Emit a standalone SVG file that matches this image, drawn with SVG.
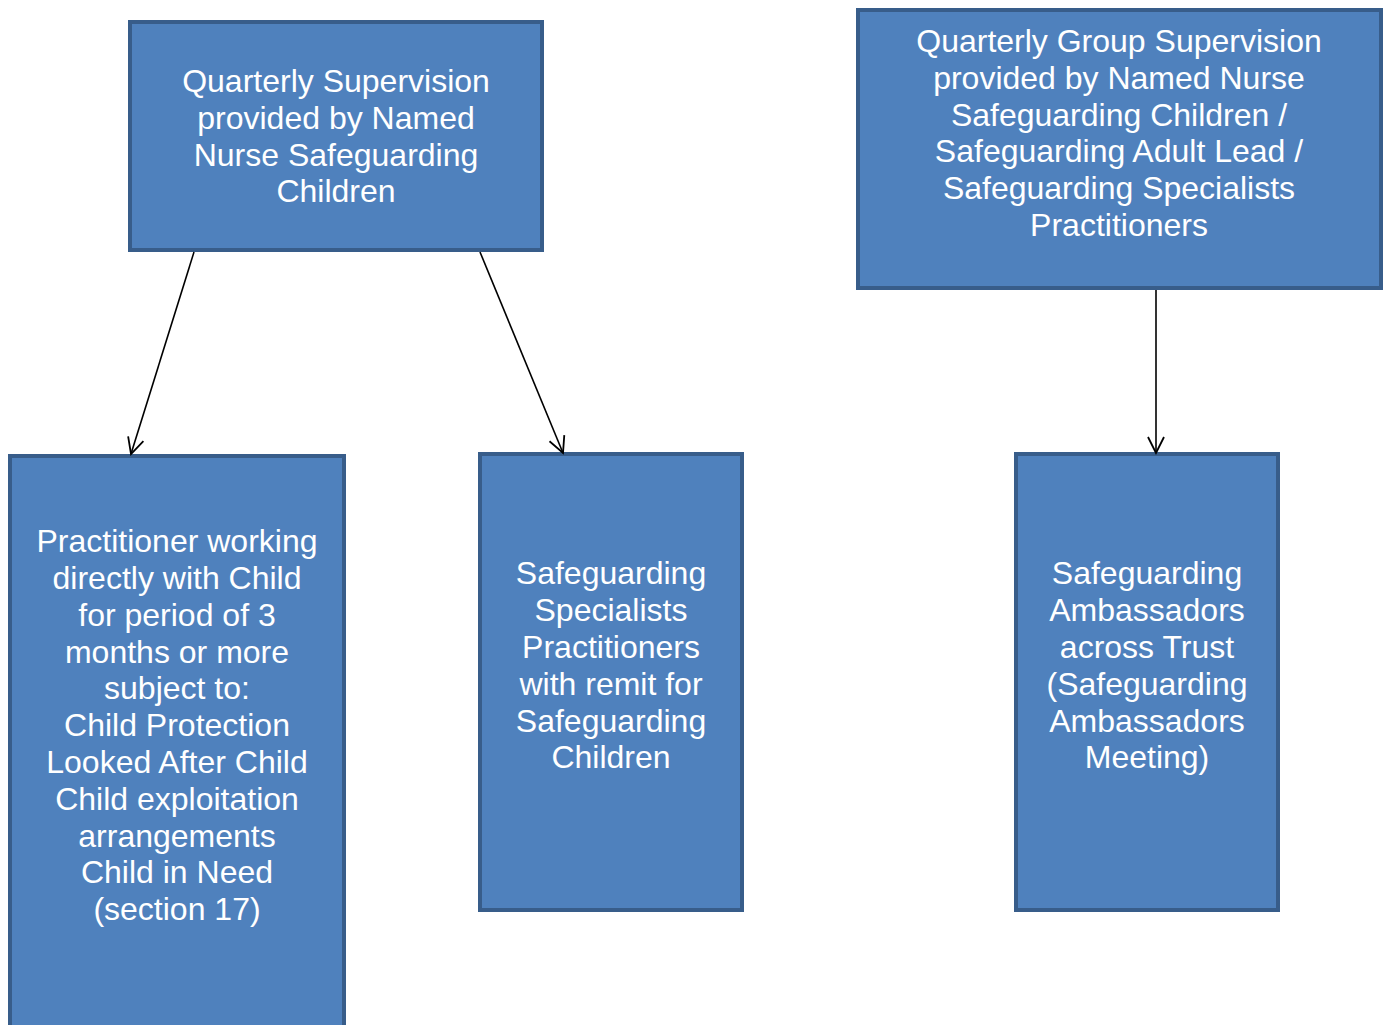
<svg xmlns="http://www.w3.org/2000/svg" width="1386" height="1025" viewBox="0 0 1386 1025">
<style>
.box{fill:#4F81BD;stroke:#385D8A;stroke-width:4}
.t{font-family:"Liberation Sans",Arial,sans-serif;font-size:32px;fill:#fff;text-anchor:middle}
.c{stroke:#000;stroke-width:1.6;fill:none}
</style>
<defs>
<marker id="ah" viewBox="0 0 20 20" refX="18" refY="10" markerWidth="20" markerHeight="20" markerUnits="userSpaceOnUse" orient="auto">
<path d="M2,2 L18,10 L2,18" fill="none" stroke="#000" stroke-width="1.8"/>
</marker>
</defs>
<rect width="1386" height="1025" fill="#fff"/>
<g id="n1">
<rect class="box" x="130" y="22" width="412" height="228"/>
<text class="t" x="336" y="92">Quarterly Supervision</text>
<text class="t" x="336" y="129">provided by Named</text>
<text class="t" x="336" y="166">Nurse Safeguarding</text>
<text class="t" x="336" y="202">Children</text>
</g>
<g id="n2">
<rect class="box" x="858" y="10" width="523" height="278"/>
<text class="t" x="1119" y="52">Quarterly Group Supervision</text>
<text class="t" x="1119" y="89">provided by Named Nurse</text>
<text class="t" x="1119" y="126">Safeguarding Children /</text>
<text class="t" x="1119" y="162">Safeguarding Adult Lead /</text>
<text class="t" x="1119" y="199">Safeguarding Specialists</text>
<text class="t" x="1119" y="236">Practitioners</text>
</g>
<g id="n3">
<rect class="box" x="10" y="456" width="334" height="600"/>
<text class="t" x="177" y="552">Practitioner working</text>
<text class="t" x="177" y="589">directly with Child</text>
<text class="t" x="177" y="626">for period of 3</text>
<text class="t" x="177" y="663">months or more</text>
<text class="t" x="177" y="699">subject to:</text>
<text class="t" x="177" y="736">Child Protection</text>
<text class="t" x="177" y="773">Looked After Child</text>
<text class="t" x="177" y="810">Child exploitation</text>
<text class="t" x="177" y="847">arrangements</text>
<text class="t" x="177" y="883">Child in Need</text>
<text class="t" x="177" y="920">(section 17)</text>
</g>
<g id="n4">
<rect class="box" x="480" y="454" width="262" height="456"/>
<text class="t" x="611" y="584">Safeguarding</text>
<text class="t" x="611" y="621">Specialists</text>
<text class="t" x="611" y="658">Practitioners</text>
<text class="t" x="611" y="695">with remit for</text>
<text class="t" x="611" y="732">Safeguarding</text>
<text class="t" x="611" y="768">Children</text>
</g>
<g id="n5">
<rect class="box" x="1016" y="454" width="262" height="456"/>
<text class="t" x="1147" y="584">Safeguarding</text>
<text class="t" x="1147" y="621">Ambassadors</text>
<text class="t" x="1147" y="658">across Trust</text>
<text class="t" x="1147" y="695">(Safeguarding</text>
<text class="t" x="1147" y="732">Ambassadors</text>
<text class="t" x="1147" y="768">Meeting)</text>
</g>
<g id="connectors">
<line class="c" x1="194" y1="252" x2="131" y2="454" marker-end="url(#ah)"/>
<line class="c" x1="480" y1="252" x2="563" y2="453" marker-end="url(#ah)"/>
<line class="c" x1="1156" y1="290" x2="1156" y2="453" marker-end="url(#ah)"/>
</g>
</svg>
